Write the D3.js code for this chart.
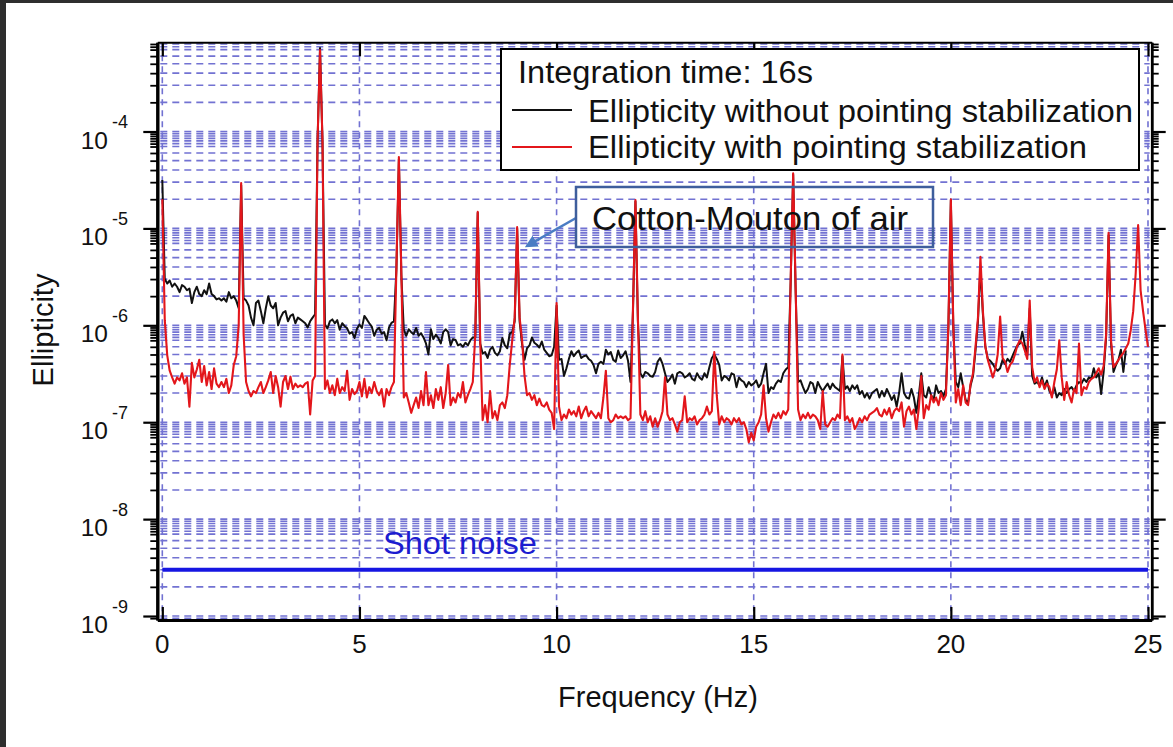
<!DOCTYPE html>
<html><head><meta charset="utf-8">
<script src="https://cdn.jsdelivr.net/npm/d3@7"></script>
<style>
html,body{margin:0;padding:0;background:#fff;}
svg{display:block;}
text{font-family:"Liberation Sans",Arial,sans-serif;}
</style></head><body>
<svg id="chart" width="1173" height="747"></svg>
<script>
// Spectrum bins: 16 s integration gives a 1/16 Hz frequency resolution.
const FREQ_STEP = 1 / 16;
// Ellipticity values below are stored in units of 1e-7.
const UNIT = 1e-7;

// Ellipticity without pointing stabilization, bins 0 .. 24.4375 Hz
const ellipNoStab = [
  316, 30, 27, 29, 25, 27, 25, 22, 26, 25, 23, 24, 17, 22, 25, 21, 20, 23, 21, 27, 21, 20, 18.5, 19, 18, 19, 17.5, 22, 19, 20, 18, 15,
  280, 19, 18, 16, 12, 10, 17, 18, 14, 10.5, 15, 20, 16, 15, 17, 10, 12, 13.5, 14, 11, 12.5, 13, 10.5, 12, 11.5, 11, 10.5, 9.5, 11, 12, 13, 780,
  7270, 780, 10.2, 9.3, 11, 11.5, 10.5, 11.3, 9, 10.5, 9.8, 9.3, 8.2, 8.5, 7.4, 9.2, 10.2, 9.4, 12.5, 11.5, 10.5, 9.7, 7.8, 9, 9.4, 8.2, 8.5, 7, 9.5, 10.6, 11, 38,
  520, 33, 9, 7.8, 9.1, 8.5, 8.1, 9.4, 7.8, 8.3, 7.5, 6.5, 5, 9.1, 7.2, 8, 7.4, 6.5, 8.5, 9.1, 8.5, 6.2, 7.2, 7.06, 6.2, 6.4, 6, 6.6, 6.2, 7, 7.5, 7.5,
  145, 6.5, 5.1, 5.3, 4.6, 5.6, 6, 5.2, 4.9, 5.4, 7.4, 6.2, 5.8, 8.2, 8.5, 11, 100, 11, 6.4, 4.4, 5.8, 6.2, 7.5, 6.6, 6.3, 5.9, 6.8, 5.6, 5.2, 4.8, 4.9, 6.0,
  16, 4.4, 4.5, 3.0, 3.6, 4.5, 5.4, 4.8, 5.2, 5.5, 4.6, 4.8, 4.9, 4.5, 4.3, 3.9, 3.2, 4.0, 4.2, 4.0, 5.6, 5.0, 5.3, 4.4, 4.2, 5.5, 4.6, 4.9, 5.4, 4.3, 2.6, 14,
  190, 11, 3.2, 2.9, 3.3, 3.2, 3.0, 2.95, 3.3, 4.2, 4.6, 4.0, 3.2, 2.6, 2.8, 3.1, 2.5, 3.2, 3.3, 3.2, 2.9, 3.0, 3.2, 2.8, 2.7, 3.2, 2.9, 2.75, 3.2, 2.9, 3.7, 4.6,
  5.0, 4.5, 3.9, 2.7, 3.0, 2.9, 2.7, 3.2, 3.1, 2.3, 2.9, 2.7, 2.6, 2.3, 2.6, 2.4, 2.5, 2.7, 2.3, 2.5, 3.2, 4.0, 2.0, 2.3, 2.2, 2.5, 2.7, 2.6, 3.2, 3.5, 3.7, 28,
  360, 23, 2.6, 2.7, 2.3, 2.0, 2.2, 2.6, 2.5, 2.0, 2.6, 2.3, 2.1, 2.3, 2.5, 2.2, 2.5, 2.3, 2.2, 2.1, 4.8, 2.2, 2.35, 2.1, 2.4, 2.2, 2.4, 1.95, 2.1, 1.8, 2.0, 1.75,
  2.0, 2.1, 2.2, 1.8, 2.1, 1.85, 2.2, 1.95, 1.7, 1.9, 1.45, 2.0, 3.2, 2.0, 1.8, 1.75, 2.2, 1.8, 1.25, 1.9, 3.2, 1.9, 1.8, 2.3, 1.9, 1.7, 2.4, 2.0, 2.1, 1.85, 2.2, 9.5,
  195, 9.5, 2.6, 2.3, 3.2, 2.3, 1.7, 1.6, 2.4, 3.0, 5.5, 11, 40, 13, 6, 4.5, 4.3, 4.0, 3.6, 3.4, 3.6, 4.4, 4.0, 4.5, 4.2, 4.8, 5.5, 6.2, 6.5, 8.6, 6.3, 4.9,
  15, 3.0, 2.5, 2.6, 2.4, 2.9, 2.3, 2.7, 2.1, 1.9, 2.3, 1.8, 2.0, 1.9, 2.2, 2.0, 2.2, 2.3, 2.1, 2.4, 2.6, 2.5, 2.8, 2.6, 2.9, 2.8, 3.6, 2.9, 3.2, 1.95, 3.3, 7.5,
  85, 6.5, 3.3, 3.9, 4.4, 5.6, 3.3, 5.5
];

// Ellipticity with pointing stabilization, bins 0 .. 25 Hz
const ellipStab = [
  200, 11.3, 4.9, 3.4, 2.9, 2.5, 2.9, 2.7, 3.2, 2.5, 2.9, 1.45, 4.1, 2.9, 3.5, 4.4, 2.6, 3.8, 2.4, 3.3, 2.2, 3.6, 2.5, 2.3, 2.6, 2.3, 2.8, 2.0, 2.4, 3.9, 4.8, 10,
  294, 8, 2.6, 2.1, 1.85, 2.1, 2.0, 2.3, 2.6, 2.0, 2.3, 2.7, 3.3, 2.0, 3.0, 2.3, 1.45, 2.6, 3.0, 2.2, 2.95, 2.2, 2.5, 2.3, 2.4, 2.3, 2.5, 2.6, 1.2, 2.7, 3.0, 800,
  6930, 800, 2.2, 2.7, 2.0, 2.4, 1.9, 2.8, 2.0, 2.3, 2.1, 3.4, 1.7, 2.2, 1.95, 2.1, 2.6, 1.85, 2.8, 1.8, 2.3, 2.0, 2.6, 2.1, 1.9, 2.2, 1.45, 2.2, 1.9, 2.3, 2.6, 40,
  546, 35, 1.8, 2.0, 1.6, 1.25, 1.5, 1.8, 1.4, 2.1, 1.5, 3.3, 1.5, 1.9, 1.4, 2.2, 1.7, 2.3, 1.4, 2.0, 3.9, 1.5, 1.8, 1.6, 2.0, 1.8, 2.6, 1.6, 1.9, 2.2, 2.6, 8,
  148, 7, 1.05, 1.5, 1.0, 2.1, 1.1, 1.3, 1.05, 1.5, 1.6, 1.4, 1.9, 3.9, 7, 12, 103, 12, 7, 3.0, 1.9, 2.0, 1.7, 1.9, 1.5, 1.75, 1.5, 1.45, 1.6, 1.35, 1.25, 0.85,
  17, 1.45, 1.05, 1.2, 1.1, 1.35, 1.2, 1.3, 1.15, 1.45, 1.1, 1.3, 1.45, 1.15, 1.3, 1.2, 1.1, 1.25, 1.1, 1.8, 3.4, 1.1, 1.0, 1.05, 1.2, 1.1, 1.15, 1.1, 1.15, 1.05, 1.1, 15,
  196, 12, 1.2, 1.05, 1.3, 1.0, 1.15, 0.9, 1.1, 0.9, 1.05, 1.3, 2.9, 1.2, 1.05, 1.1, 0.95, 0.8, 1.0, 1.05, 1.85, 1.0, 1.1, 1.05, 1.15, 0.95, 1.05, 1.1, 1.2, 1.45, 1.2, 1.3,
  5.3, 1.9, 0.95, 1.15, 1.0, 1.1, 1.05, 0.95, 1.1, 1.0, 1.1, 0.95, 1.0, 0.85, 0.62, 0.78, 0.65, 0.9, 1.0, 1.2, 2.4, 1.1, 0.8, 1.0, 1.2, 1.1, 1.25, 1.1, 1.3, 1.2, 1.35, 30,
  371, 25, 1.35, 1.05, 1.2, 1.1, 1.25, 1.1, 1.2, 1.15, 1.05, 0.85, 2.1, 0.95, 0.9, 1.0, 1.1, 1.05, 1.2, 1.1, 5.0, 1.05, 1.15, 1.0, 1.1, 0.85, 0.95, 1.1, 1.0, 1.15, 1.05, 1.2,
  1.25, 1.3, 1.4, 1.2, 1.15, 1.35, 1.2, 1.4, 1.1, 1.3, 1.4, 1.3, 1.6, 0.9, 1.3, 1.45, 1.2, 1.35, 0.85, 1.4, 3.0, 1.1, 1.5, 1.35, 1.9, 1.6, 1.8, 1.5, 2.0, 1.7, 1.9, 10,
  200, 10, 1.6, 2.2, 1.5, 2.4, 1.6, 1.5, 2.5, 3.2, 6, 12, 51, 14, 6, 4.4, 3.6, 2.9, 3.5, 5, 12.3, 4.6, 4.2, 3.3, 3.9, 4.2, 5.0, 6.2, 7, 6.5, 5.5, 4.5,
  18, 3.7, 2.6, 2.9, 2.3, 2.7, 2.2, 2.5, 2.3, 1.8, 2.6, 3.5, 7, 2.9, 1.7, 2.6, 1.9, 1.6, 2.2, 2.0, 6.5, 1.9, 2.3, 2.2, 2.6, 2.8, 2.9, 3.2, 3.6, 3.1, 3.8, 8,
  90, 7, 3.7, 4.0, 4.4, 4.8, 5.2, 5.8, 6.5, 8.9, 14, 34, 108, 23, 14, 9, 6
];

const shotNoise = 3e-9;
const xTicks = [0, 5, 10, 15, 20, 25];
const yDecades = [-9, -8, -7, -6, -5, -4];
const gridMultipliers = [1, 2, 3, 4, 5, 6, 7, 7.5, 8, 8.5, 9, 9.5];
const legendTitle = "Integration time: 16s";
const seriesNames = ["Ellipticity without pointing stabilization", "Ellipticity with pointing stabilization"];
const seriesColors = ["#111111", "#e3161b"];
const seriesWidths = [2, 2.1];

const W = 1173, H = 747;
const plot = { left: 157.3, right: 1151.7, top: 42.3, bottom: 620 };

const x = d3.scaleLinear().domain([-0.127, 25.094]).range([plot.left, plot.right]);
const y = d3.scaleLog().domain([Math.pow(10, -9.041), Math.pow(10, -3.0795)]).range([plot.bottom, plot.top]);

const svg = d3.select("#chart");

// dark window edges around the figure
svg.append("rect").attr("x", 0).attr("y", 0).attr("width", W).attr("height", 3).attr("fill", "#2e2e2e");
svg.append("rect").attr("x", 0).attr("y", 0).attr("width", 6).attr("height", H).attr("fill", "#2e2e2e");

// log grid values (with extra half steps just below each decade)
const [yMin, yMax] = y.domain();
const gridVals = [];
for (let e = -10; e <= -3; e++) {
  gridMultipliers.forEach(m => {
    const v = m * Math.pow(10, e);
    if (v >= yMin && v <= yMax) gridVals.push(v);
  });
}
const minorVals = gridVals.filter(v => !yDecades.some(d => Math.abs(v - Math.pow(10, d)) < 1e-15));

// dashed grid
const grid = svg.append("g").attr("fill", "none").attr("stroke", "#7272d2").attr("stroke-width", 1.6);
grid.selectAll("line.hgrid").data(gridVals).join("line").attr("class", "hgrid")
  .attr("x1", plot.left + 3).attr("x2", plot.right - 2)
  .attr("y1", d => y(d)).attr("y2", d => y(d))
  .attr("stroke-dasharray", "7,5");
grid.selectAll("line.vgrid").data(xTicks).join("line").attr("class", "vgrid")
  .attr("x1", d => x(d)).attr("x2", d => x(d))
  .attr("y1", plot.top + 2).attr("y2", plot.bottom - 2)
  .attr("stroke-dasharray", "6,5");

// clip for data
svg.append("clipPath").attr("id", "plotclip").append("rect")
  .attr("x", plot.left).attr("y", plot.top).attr("width", plot.right - plot.left).attr("height", plot.bottom - plot.top);

const dataG = svg.append("g").attr("clip-path", "url(#plotclip)");

// shot noise level
dataG.append("line")
  .attr("x1", x(0)).attr("x2", x(25))
  .attr("y1", y(shotNoise)).attr("y2", y(shotNoise))
  .attr("stroke", "#1616e2").attr("stroke-width", 4);

const line = d3.line()
  .x((d, i) => x(i * FREQ_STEP))
  .y(d => y(d * UNIT));

[ellipNoStab, ellipStab].forEach((series, k) => {
  dataG.append("path").datum(series)
    .attr("d", line)
    .attr("fill", "none")
    .attr("stroke", seriesColors[k])
    .attr("stroke-width", seriesWidths[k])
    .attr("stroke-linejoin", "round");
});

// axes
const axisStyle = (g, w) => {
  g.select(".domain").attr("stroke", "#000").attr("stroke-width", w);
  g.selectAll(".tick line").attr("stroke", "#000").attr("stroke-width", 2.2);
  g.selectAll(".tick text").remove();
};

const decadeVals = yDecades.map(d => Math.pow(10, d));

const leftMajor = svg.append("g").attr("transform", `translate(${plot.left},0)`)
  .call(d3.axisLeft(y).tickValues(decadeVals).tickSize(14).tickSizeOuter(0).tickFormat(""));
axisStyle(leftMajor, 3);
const leftMinor = svg.append("g").attr("transform", `translate(${plot.left},0)`)
  .call(d3.axisLeft(y).tickValues(minorVals).tickSize(7).tickSizeOuter(0).tickFormat(""));
axisStyle(leftMinor, 3);
leftMinor.selectAll(".tick line").attr("stroke-width", 1.8);

const rightMajor = svg.append("g").attr("transform", `translate(${plot.right},0)`)
  .call(d3.axisRight(y).tickValues(decadeVals).tickSize(14).tickSizeOuter(0).tickFormat(""));
axisStyle(rightMajor, 2.5);
const rightMinor = svg.append("g").attr("transform", `translate(${plot.right},0)`)
  .call(d3.axisRight(y).tickValues(minorVals).tickSize(7).tickSizeOuter(0).tickFormat(""));
axisStyle(rightMinor, 2.5);
rightMinor.selectAll(".tick line").attr("stroke-width", 1.8);

const bottomAxis = svg.append("g").attr("transform", `translate(0,${plot.bottom})`)
  .call(d3.axisBottom(x).tickValues(xTicks).tickSize(-13).tickSizeOuter(0).tickFormat(""));
axisStyle(bottomAxis, 3);
const topAxis = svg.append("g").attr("transform", `translate(0,${plot.top})`)
  .call(d3.axisTop(x).tickValues(xTicks).tickSize(-14).tickSizeOuter(0).tickFormat(""));
axisStyle(topAxis, 2);

// y tick labels: 10 with superscript exponent
const yLab = svg.append("g").attr("fill", "#111");
yDecades.forEach(d => {
  const yy = y(Math.pow(10, d));
  yLab.append("text").attr("x", 108).attr("y", yy + 17)
    .attr("text-anchor", "end").attr("font-size", 24.5).text("10");
  yLab.append("text").attr("x", 112).attr("y", yy - 3.5)
    .attr("text-anchor", "start").attr("font-size", 18).text("-" + Math.abs(d));
});

// x tick labels
svg.append("g").selectAll("text").data(xTicks).join("text")
  .attr("x", d => x(d)).attr("y", 653)
  .attr("text-anchor", "middle").attr("font-size", 26).attr("fill", "#111")
  .text(d => d);

// axis titles
svg.append("text").attr("x", 658).attr("y", 707).attr("text-anchor", "middle")
  .attr("font-size", 29).attr("fill", "#111").text("Frequency (Hz)");
svg.append("text").attr("transform", "translate(53,330) rotate(-90)")
  .attr("text-anchor", "middle").attr("font-size", 29).attr("fill", "#111").text("Ellipticity");

// shot noise label
svg.append("text").attr("x", 383).attr("y", 554)
  .attr("font-size", 31).attr("fill", "#1c1cd0")
  .attr("textLength", 154).attr("lengthAdjust", "spacingAndGlyphs")
  .text("Shot noise");

// legend
const lg = svg.append("g");
lg.append("rect").attr("x", 501).attr("y", 49).attr("width", 638).attr("height", 121)
  .attr("fill", "#fff").attr("stroke", "#000").attr("stroke-width", 2);
lg.append("text").attr("x", 518).attr("y", 83).attr("font-size", 31).attr("fill", "#111")
  .attr("textLength", 295).attr("lengthAdjust", "spacingAndGlyphs").text(legendTitle);
const legendRows = [{ ly: 110, ty: 122, w: 545 }, { ly: 147, ty: 158, w: 499 }];
legendRows.forEach((r, k) => {
  lg.append("line").attr("x1", 512).attr("x2", 572).attr("y1", r.ly).attr("y2", r.ly)
    .attr("stroke", seriesColors[k]).attr("stroke-width", 2);
  lg.append("text").attr("x", 588).attr("y", r.ty).attr("font-size", 31).attr("fill", "#111")
    .attr("textLength", r.w).attr("lengthAdjust", "spacingAndGlyphs").text(seriesNames[k]);
});

// Cotton-Mouton annotation
const defs = svg.append("defs");
defs.append("marker").attr("id", "arrowhead").attr("viewBox", "0 0 10 10")
  .attr("refX", 8).attr("refY", 5).attr("markerWidth", 5).attr("markerHeight", 5)
  .attr("orient", "auto")
  .append("path").attr("d", "M0,0 L10,5 L0,10 z").attr("fill", "#4a7cc4");

svg.append("line").attr("x1", 576).attr("y1", 218).attr("x2", x(9.25)).attr("y2", y(6.6e-6))
  .attr("stroke", "#4a7cc4").attr("stroke-width", 2.5).attr("marker-end", "url(#arrowhead)");
svg.append("rect").attr("x", 576).attr("y", 187).attr("width", 357).attr("height", 60)
  .attr("fill", "none").attr("stroke", "#3e5e9c").attr("stroke-width", 2.5);
svg.append("text").attr("x", 592).attr("y", 230)
  .attr("font-family", "Lato, 'Open Sans', sans-serif").attr("font-size", 34).attr("fill", "#111")
  .attr("textLength", 316).attr("lengthAdjust", "spacingAndGlyphs")
  .text("Cotton-Mouton of air");
</script>
</body></html>
